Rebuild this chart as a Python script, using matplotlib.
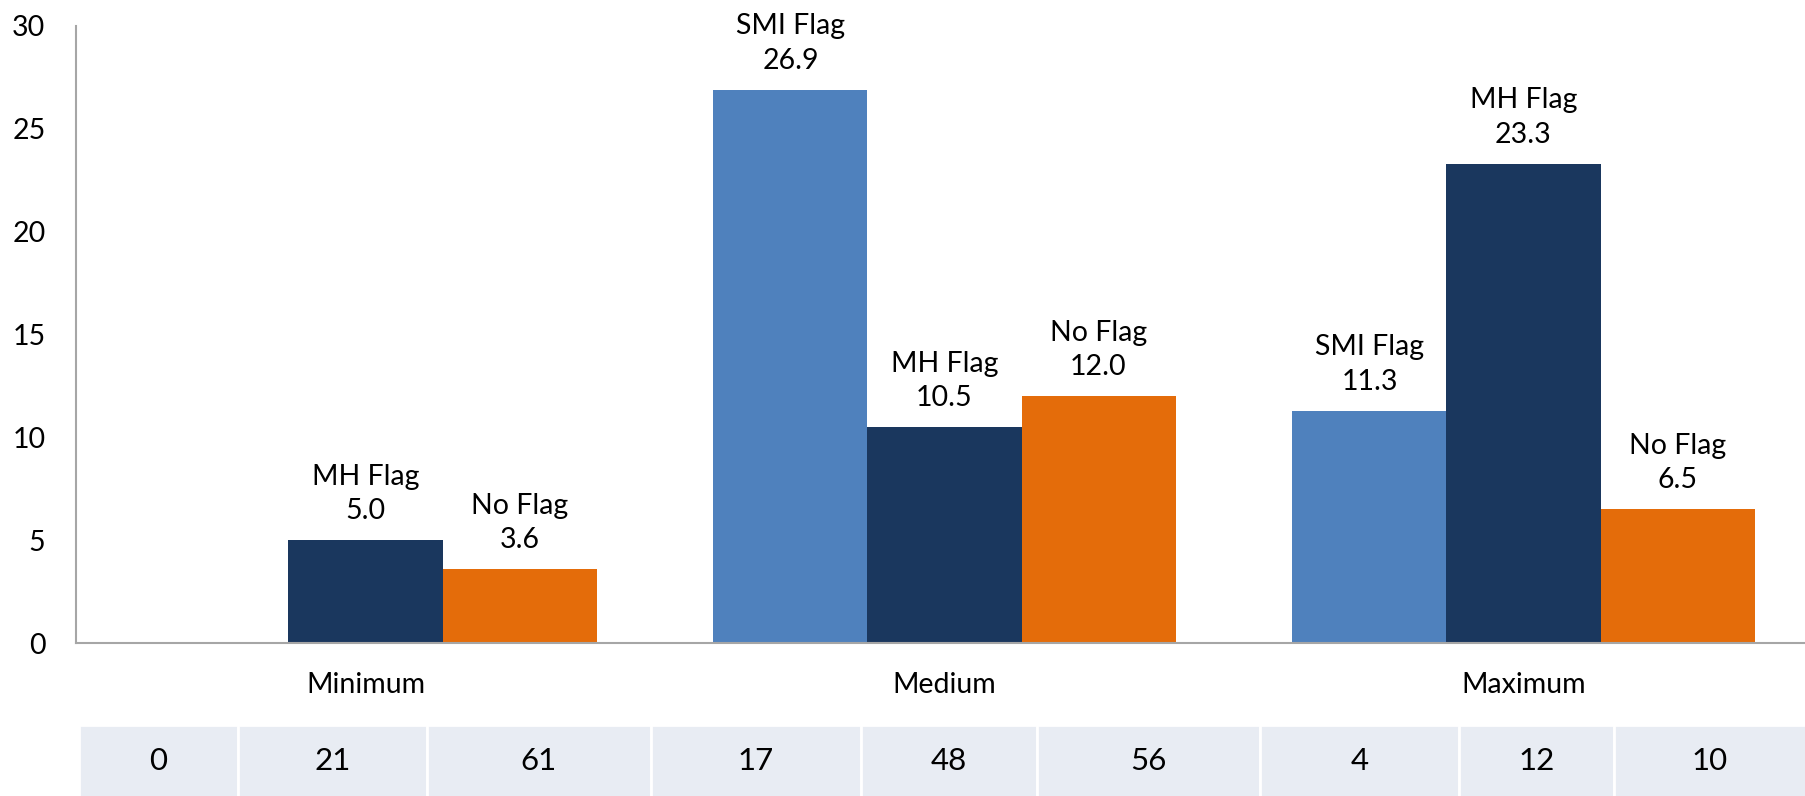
import matplotlib
matplotlib.use("Agg")
import matplotlib.pyplot as plt
from matplotlib.patches import Rectangle
from matplotlib import font_manager
import numpy as np

# ---- data ----
categories = ["Minimum", "Medium", "Maximum"]
series_names = ["SMI Flag", "MH Flag", "No Flag"]
smi_flag = [0.0, 26.9, 11.3]
mh_flag = [5.0, 10.5, 23.3]
no_flag = [3.6, 12.0, 6.5]
counts = [0, 21, 61, 17, 48, 56, 4, 12, 10]
y_ticks = [0, 5, 10, 15, 20, 25, 30]

# ---- style ----
colors = ["#4F81BD", "#1A375E", "#E46C0A"]
installed = {f.name for f in font_manager.fontManager.ttflist}
base_font = "Lato" if "Lato" in installed else "DejaVu Sans"
narrow_font = "Liberation Sans Narrow" if "Liberation Sans Narrow" in installed else base_font
plt.rcParams["font.family"] = [base_font, "DejaVu Sans"]
FS = 20.5

W, H = 1806, 796
fig = plt.figure(figsize=(W / 100, H / 100), dpi=100)

# plot area in pixels
left_px, right_px, top_px, bottom_px = 76, 1813, 26, 643
ax = fig.add_axes([left_px / W, 1 - bottom_px / H,
                   (right_px - left_px) / W, (bottom_px - top_px) / H])

x = np.arange(len(categories))
bw = 0.266
series = [smi_flag, mh_flag, no_flag]
for i, (name, vals) in enumerate(zip(series_names, series)):
    pos = x + (i - 1) * bw
    bars = ax.bar(pos, vals, width=bw, color=colors[i], edgecolor="none")
    for b, v in zip(bars, vals):
        if v > 0:
            ax.annotate(f"{name}\n{v:.1f}",
                        xy=(b.get_x() + b.get_width() / 2, v),
                        xytext=(0, 16), textcoords="offset pixels",
                        ha="center", va="bottom", fontsize=FS,
                        linespacing=1.4, color="black")

ax.set_xlim(-0.5, len(categories) - 0.5)
ax.set_ylim(0, 30)
ax.set_yticks(y_ticks)
ax.set_yticklabels([str(t) for t in y_ticks], fontsize=FS)
ax.set_xticks(x)
ax.set_xticklabels(categories, fontsize=FS)
ax.tick_params(axis="y", length=0, pad=22)
ax.tick_params(axis="x", length=0, pad=21)
for s in ["top", "right"]:
    ax.spines[s].set_visible(False)
for s in ["left", "bottom"]:
    ax.spines[s].set_color("#A6A6A6")
    ax.spines[s].set_linewidth(1.5)
ax.patch.set_alpha(0)

# ---- counts table below the chart ----
col_edges = [79, 238, 427, 651, 861, 1037, 1260, 1459, 1614, 1806]
table_top, table_bottom = 725, 800
tax = fig.add_axes([0, 0, 1, 1])
tax.set_xlim(0, W)
tax.set_ylim(H, 0)
tax.axis("off")
tax.set_zorder(-1)
for j, n in enumerate(counts):
    x0, x1 = col_edges[j], col_edges[j + 1]
    tax.add_patch(Rectangle((x0, table_top), x1 - x0, table_bottom - table_top,
                            facecolor="#E8ECF3", edgecolor="white", linewidth=2))
    tax.text((x0 + x1) / 2, 761, str(n), ha="center", va="center",
             fontsize=FS + 2, family=[narrow_font, "DejaVu Sans"], color="black")

fig.savefig("out.png", dpi=100)
